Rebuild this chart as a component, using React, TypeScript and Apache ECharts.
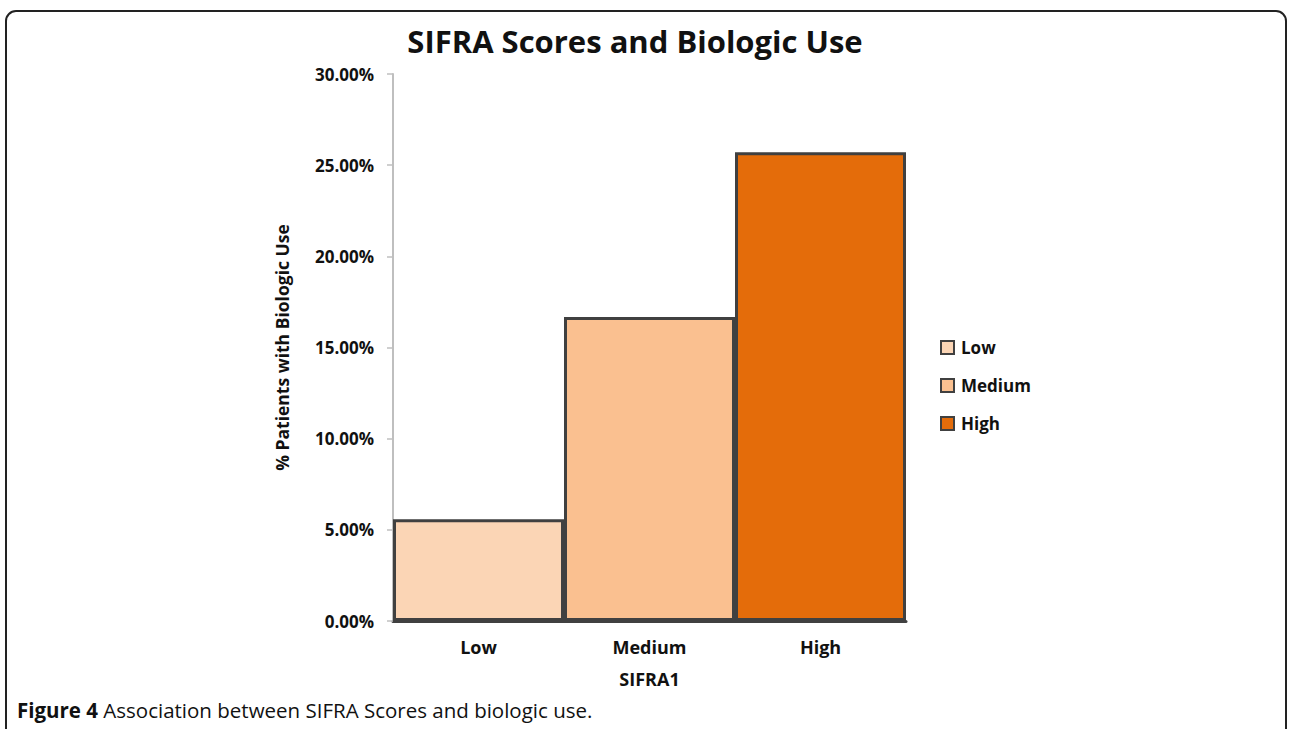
import React, { useEffect, useRef } from "react";
import * as echarts from "echarts";

const categories = ["Low", "Medium", "High"];
const values = [0.0558, 0.1667, 0.2571];
const colors = ["#FBD5B5", "#FAC090", "#E46C0A"];
const yTicks = { min: 0, max: 0.3, interval: 0.05 };
const titleText = "SIFRA Scores and Biologic Use";
const yName = "% Patients with Biologic Use";
const xName = "SIFRA1";
const captionBold = "Figure 4";
const captionRest = " Association between SIFRA Scores and biologic use.";

const FONT = "'Open Sans', 'Noto Sans', sans-serif";

export default function App() {
  const ref = useRef<HTMLDivElement>(null);
  useEffect(() => {
    if (!ref.current) return;
    const chart = echarts.init(ref.current, null, { renderer: "svg" });
    const series = categories.map((name, i) => ({
      name,
      type: "bar",
      stack: "all",
      barWidth: "100%",
      barCategoryGap: "0%",
      data: categories.map((_, j) => (j === i ? values[i] : null)),
      itemStyle: { color: colors[i], borderColor: "#404040", borderWidth: 3 },
    }));
    chart.setOption({
      animation: false,
      backgroundColor: "#ffffff",
      textStyle: { fontFamily: FONT },
      title: {
        text: titleText,
        left: 630,
        textAlign: "center",
        top: 20,
        textStyle: { fontFamily: FONT, fontSize: 31, fontWeight: "bold", color: "#111" },
      },
      legend: {
        orient: "vertical",
        left: 935,
        top: 334,
        itemWidth: 13,
        itemHeight: 13,
        itemGap: 21,
        icon: "rect",
        data: categories,
        textStyle: { fontFamily: FONT, fontSize: 17, fontWeight: "bold", color: "#111", padding: [0, 0, 0, 2] },
      },
      grid: { left: 393, right: 383, top: 74, bottom: 108, containLabel: false },
      xAxis: {
        type: "category",
        data: categories,
        name: xName,
        nameLocation: "middle",
        nameGap: 49,
        nameTextStyle: { fontFamily: FONT, fontSize: 18, fontWeight: "bold", color: "#111" },
        axisLine: { lineStyle: { color: "#404040", width: 3 } },
        axisTick: { show: false },
        axisLabel: { fontFamily: FONT, fontSize: 18, fontWeight: "bold", color: "#111", margin: 17 },
      },
      yAxis: {
        type: "value",
        min: yTicks.min,
        max: yTicks.max,
        interval: yTicks.interval,
        name: yName,
        nameLocation: "middle",
        nameGap: 102,
        nameRotate: 90,
        nameTextStyle: { fontFamily: FONT, fontSize: 17.5, fontWeight: "bold", color: "#111" },
        axisLine: { show: true, lineStyle: { color: "#bfbfbf", width: 2 } },
        axisTick: { show: true, inside: false, length: 6, lineStyle: { color: "#bfbfbf", width: 1.5 } },
        splitLine: { show: false },
        axisLabel: {
          fontFamily: FONT,
          fontSize: 17,
          fontWeight: "bold",
          color: "#111",
          margin: 19,
          formatter: (v: number) => (v * 100).toFixed(2) + "%",
        },
      },
      series,
      graphic: [
        {
          type: "rect",
          shape: { x: 6, y: 11, width: 1280, height: 800, r: 10 },
          style: { fill: "none", stroke: "#222", lineWidth: 2 },
          silent: true,
        },
        {
          type: "text",
          left: 17,
          top: 699,
          style: {
            text: "{b|" + captionBold + "}{r|" + captionRest + "}",
            rich: {
              b: { fontFamily: FONT, fontSize: 20.5, fontWeight: "bold", fill: "#111" },
              r: { fontFamily: FONT, fontSize: 20.5, fill: "#111" },
            },
          },
        },
      ],
    });
    return () => chart.dispose();
  }, []);
  return (
    <div
      ref={ref}
      style={{ position: "fixed", left: 0, top: 0, width: 1289, height: 729, background: "#fff" }}
    />
  );
}
